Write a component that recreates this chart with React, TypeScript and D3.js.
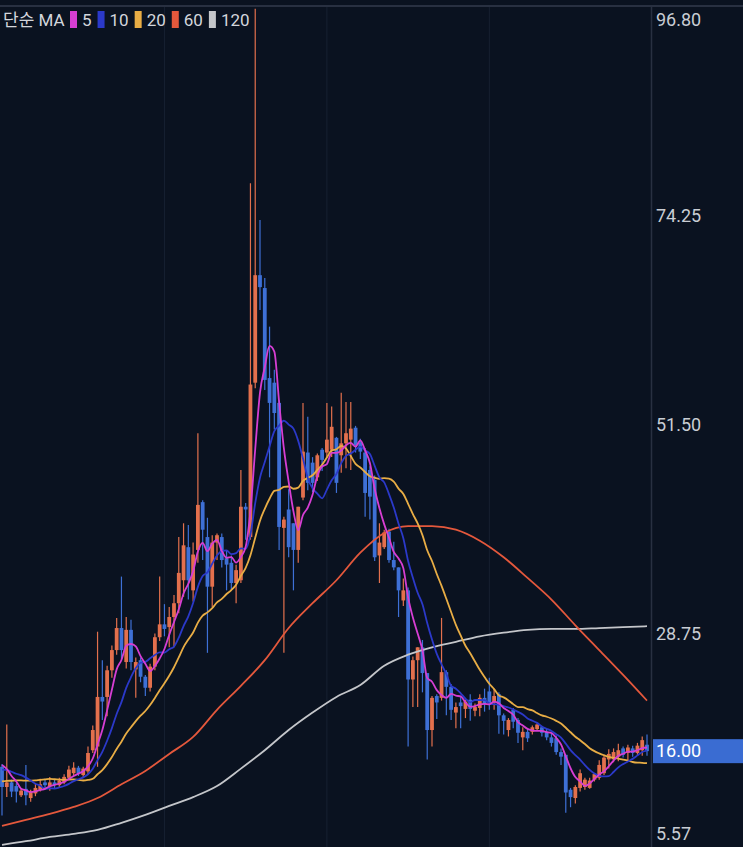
import React, { useEffect, useRef } from 'react';
import * as d3 from 'd3';

// [open, high, low, close] per session
const candles: [number, number, number, number][] = [
  [14.3, 14.6, 9.0, 12.1], [12.1, 18.9, 11.0, 12.6], [12.6, 12.9, 11.0, 11.6], [12.2, 12.5, 10.4, 11.6],
  [11.2, 12.0, 11.0, 11.7], [11.9, 14.5, 10.1, 11.2], [10.9, 11.8, 10.5, 11.6], [11.4, 12.5, 11.1, 12.0],
  [11.8, 13.0, 11.6, 12.4], [12.6, 13.0, 11.8, 12.3], [12.2, 13.2, 11.7, 12.6], [12.6, 12.9, 12.0, 12.3],
  [12.3, 13.1, 12.1, 12.8], [12.6, 13.5, 12.4, 13.2], [13.1, 14.4, 12.9, 14.0], [13.6, 14.8, 13.3, 14.2],
  [14.2, 14.4, 13.3, 13.6], [13.4, 14.3, 13.2, 14.1], [13.8, 16.5, 13.5, 15.8], [16.1, 18.8, 15.8, 18.3],
  [16.5, 29.0, 14.3, 21.9], [21.9, 25.9, 19.4, 21.4], [21.9, 25.3, 19.8, 24.8], [24.8, 27.5, 24.0, 27.0],
  [27.0, 30.5, 26.5, 29.4], [29.4, 35.0, 26.0, 27.0], [25.7, 30.6, 25.0, 29.2], [29.2, 30.3, 24.8, 25.7],
  [24.9, 26.2, 21.8, 25.7], [25.9, 26.2, 23.5, 24.1], [24.1, 24.3, 22.0, 22.9], [22.9, 25.5, 22.5, 25.2],
  [25.2, 28.8, 24.8, 28.4], [28.4, 35.0, 28.0, 29.8], [29.8, 32.0, 28.5, 29.3], [29.5, 31.7, 27.3, 30.6],
  [30.6, 33.0, 27.3, 32.1], [32.1, 39.3, 31.0, 35.4], [34.6, 40.8, 32.8, 38.4], [38.2, 40.6, 32.5, 34.6],
  [33.5, 38.7, 32.3, 37.4], [37.9, 50.6, 36.5, 42.8], [43.1, 43.3, 36.8, 40.1], [39.3, 41.4, 26.7, 33.9],
  [33.9, 39.5, 31.7, 38.7], [38.7, 39.7, 36.8, 39.5], [39.3, 39.7, 36.0, 36.8], [37.0, 37.8, 33.5, 36.3],
  [36.5, 37.3, 33.5, 34.3], [34.3, 36.3, 32.1, 35.7], [34.6, 46.6, 34.3, 42.6], [42.6, 43.0, 39.0, 42.3],
  [39.3, 77.8, 39.0, 55.9], [56.1, 96.8, 55.5, 67.8], [67.8, 73.8, 64.0, 66.5], [66.4, 67.5, 55.3, 56.4],
  [56.6, 62.2, 45.8, 53.9], [56.1, 57.5, 51.0, 52.8], [53.9, 54.2, 37.9, 40.4], [40.3, 41.5, 26.7, 41.2],
  [42.3, 44.5, 37.1, 38.2], [40.8, 40.8, 33.5, 37.9], [37.9, 42.6, 36.5, 42.6], [43.6, 53.9, 43.3, 48.6],
  [48.5, 52.4, 44.4, 45.2], [47.4, 48.0, 44.2, 45.2], [45.8, 48.4, 45.4, 48.2], [48.8, 49.0, 46.5, 47.7],
  [48.5, 53.9, 47.9, 49.9], [48.8, 53.5, 48.0, 51.3], [50.1, 50.2, 44.1, 45.2], [48.2, 55.0, 46.3, 49.5],
  [49.5, 54.0, 46.8, 50.6], [49.9, 54.0, 46.6, 51.1], [51.2, 51.4, 48.5, 49.3], [49.6, 50.0, 47.8, 48.6],
  [48.5, 49.0, 41.5, 44.1], [46.6, 47.0, 41.2, 43.7], [45.5, 46.0, 36.7, 37.1], [37.3, 40.8, 34.3, 38.7],
  [38.2, 40.1, 38.0, 39.8], [39.9, 40.2, 36.5, 36.8], [36.8, 38.8, 35.7, 36.0], [36.0, 36.0, 30.6, 33.5],
  [32.4, 34.8, 31.8, 33.5], [33.5, 33.8, 16.5, 23.8], [23.8, 26.3, 20.8, 25.9], [25.9, 27.3, 20.8, 27.3],
  [27.3, 28.1, 22.4, 24.5], [24.5, 24.5, 15.1, 18.3], [18.3, 22.0, 16.5, 21.8], [22.0, 22.2, 19.5, 21.3],
  [21.8, 30.5, 21.5, 24.6], [24.6, 24.8, 19.9, 23.0], [23.0, 23.3, 19.4, 20.5], [20.2, 21.3, 18.5, 20.8],
  [21.3, 22.0, 18.5, 20.9], [20.6, 21.6, 19.6, 21.4], [21.6, 22.2, 19.3, 20.6], [20.4, 21.2, 19.8, 20.8],
  [20.7, 22.2, 19.8, 21.8], [21.8, 22.8, 20.3, 21.1], [22.5, 24.0, 20.5, 21.2], [21.3, 22.8, 20.5, 22.0],
  [22.2, 22.4, 17.9, 19.9], [19.9, 20.1, 17.8, 19.3], [18.3, 19.6, 17.6, 19.4], [20.5, 20.7, 18.5, 19.2],
  [19.4, 19.6, 16.9, 18.0], [17.5, 18.6, 16.1, 18.1], [18.1, 18.4, 17.0, 17.4], [18.1, 18.8, 17.8, 18.6],
  [18.4, 19.0, 18.2, 18.9], [18.6, 18.7, 17.6, 18.0], [18.1, 18.4, 17.2, 17.5], [17.5, 18.0, 16.5, 16.9],
  [17.4, 17.7, 15.6, 15.9], [15.9, 16.3, 14.5, 15.4], [15.6, 15.6, 9.3, 11.5], [11.8, 12.0, 9.9, 11.0],
  [10.9, 12.3, 10.3, 12.1], [12.0, 14.0, 11.6, 13.6], [12.1, 13.1, 11.8, 12.9], [12.0, 13.1, 11.9, 12.8],
  [12.9, 13.6, 12.7, 13.5], [13.1, 15.0, 12.9, 14.5], [13.6, 15.6, 13.4, 15.3], [15.1, 16.2, 14.1, 15.7],
  [15.1, 16.3, 14.8, 15.9], [15.4, 16.8, 14.9, 16.1], [16.3, 16.5, 15.3, 15.6], [15.8, 16.7, 14.9, 16.4],
  [16.3, 16.6, 15.4, 15.8], [15.8, 16.9, 15.5, 16.6], [16.1, 17.6, 15.5, 17.2], [16.7, 17.8, 15.5, 16.0],
];

// closes before the first visible candle (only feed the short averages)
const priorCloses = [11.2, 11.5, 11.0, 11.6, 11.8, 11.3, 11.5, 11.2, 11.6, 11.4,
  13.0, 13.6, 13.8, 13.2, 13.9, 14.8, 15.4, 14.6, 15.6];

// long averages, read every 5 sessions
const maStep = 5;
const ma60 = [7.87, 8.52, 9.17, 9.93, 10.9, 12.4, 13.85, 15.7, 17.55, 20.5, 23.1, 25.9, 29.4, 32.1,
  34.6, 37.6, 39.75, 40.5, 40.5, 40.1, 38.9, 37.1, 34.85, 32.5, 29.7, 27.0, 24.3, 21.5];
const ma120 = [5.8, 6.2, 6.67, 7.0, 7.43, 8.2, 9.06, 10.04, 11.0, 12.2, 14.1, 16.1, 18.3, 20.2,
  21.9, 23.2, 25.3, 26.5, 27.3, 27.9, 28.5, 28.9, 29.2, 29.3, 29.3, 29.4, 29.5, 29.6];

const priceTicks = ['96.80', '74.25', '51.50', '28.75', '5.57'];
const lastPrice = '16.00';
const gridSessions = [34, 68, 102];

const legend = [
  { label: '5', color: '#d63ed3' },
  { label: '10', color: '#2b39c9' },
  { label: '20', color: '#e8ad45' },
  { label: '60', color: '#e4583c' },
  { label: '120', color: '#c4c6ca' },
];

const W = 743;
const H = 847;
const UP = '#e3704d';
const DOWN = '#3e70d6';
const FONT = "Roboto, 'Noto Sans CJK KR', sans-serif";

function movingAvg(all: number[], n: number, offset: number, count: number) {
  return Array.from({ length: count }, (_, i) => {
    const end = offset + i + 1;
    return d3.mean(all.slice(Math.max(0, end - n), end)) as number;
  });
}

const App: React.FC = () => {
  const svgRef = useRef<SVGSVGElement>(null);

  useEffect(() => {
    if (!svgRef.current) return;
    const svg = d3.select(svgRef.current);
    svg.selectAll('*').remove();

    const plotRight = 651;
    const x = d3.scaleLinear().domain([0, candles.length - 1]).range([2, 647]);
    const y = d3.scaleLinear().domain([5.57, 96.8]).range([847, 8.7]);

    svg.append('rect').attr('width', W).attr('height', H).attr('fill', '#0a1220');

    svg.append('defs').append('clipPath').attr('id', 'plot')
      .append('rect').attr('x', 0).attr('y', 7).attr('width', plotRight).attr('height', H - 7);

    // grid
    svg.selectAll('line.grid').data(gridSessions).enter().append('line')
      .attr('x1', d => x(d)).attr('x2', d => x(d))
      .attr('y1', 7).attr('y2', H)
      .attr('stroke', '#172031').attr('stroke-width', 1);

    const plot = svg.append('g').attr('clip-path', 'url(#plot)');

    // candles
    const bw = 3.8;
    const g = plot.selectAll('g.c').data(candles).enter().append('g');
    g.append('line')
      .attr('x1', (_, i) => x(i)).attr('x2', (_, i) => x(i))
      .attr('y1', d => y(d[1])).attr('y2', d => y(d[2]))
      .attr('stroke', d => (d[3] >= d[0] ? UP : DOWN)).attr('stroke-width', 1.2);
    g.append('rect')
      .attr('x', (_, i) => x(i) - bw / 2).attr('width', bw)
      .attr('y', d => y(Math.max(d[0], d[3])))
      .attr('height', d => Math.max(1.2, Math.abs(y(d[0]) - y(d[3]))))
      .attr('fill', d => (d[3] >= d[0] ? UP : DOWN));

    // moving averages
    const closes = candles.map(c => c[3]);
    const all = [...priorCloses, ...closes];
    const line = d3.line<number>().x((_, i) => x(i)).y(d => y(d)).curve(d3.curveMonotoneX);
    const sparse = d3.line<number>().x((_, i) => x(i * maStep)).y(d => y(d)).curve(d3.curveMonotoneX);

    const drawLine = (data: number[], gen: d3.Line<number>, color: string) =>
      plot.append('path').datum(data).attr('fill', 'none').attr('stroke', color)
        .attr('stroke-width', 1.8).attr('d', gen);

    drawLine(ma120, sparse, legend[4].color);
    drawLine(ma60, sparse, legend[3].color);
    drawLine(movingAvg(all, 20, priorCloses.length, closes.length), line, legend[2].color);
    drawLine(movingAvg(all, 10, priorCloses.length, closes.length), line, legend[1].color);
    drawLine(movingAvg(all, 5, priorCloses.length, closes.length), line, legend[0].color);

    // frame
    svg.append('line').attr('x1', 0).attr('x2', W).attr('y1', 6).attr('y2', 6)
      .attr('stroke', '#283041').attr('stroke-width', 2);
    svg.append('line').attr('x1', plotRight + 0.5).attr('x2', plotRight + 0.5).attr('y1', 6).attr('y2', H)
      .attr('stroke', '#283041').attr('stroke-width', 1.5);

    // price axis
    svg.selectAll('text.tick').data(priceTicks).enter().append('text')
      .attr('x', 656)
      .attr('y', d => Math.min(Math.max(y(+d), 20), 834))
      .attr('dy', '0.35em')
      .attr('fill', '#c9cdd4').attr('font-family', FONT).attr('font-size', 18)
      .text(d => d);

    const ly = y(+lastPrice);
    svg.append('rect').attr('x', 653).attr('y', ly - 12).attr('width', W - 653).attr('height', 24)
      .attr('fill', '#3a6cd2');
    svg.append('text').attr('x', 656).attr('y', ly).attr('dy', '0.35em')
      .attr('fill', '#ffffff').attr('font-family', FONT).attr('font-size', 18).text(lastPrice);

    // legend
    const lg = svg.append('g').attr('font-family', FONT).attr('font-size', 17).attr('fill', '#d3d6dc');
    lg.append('text').attr('x', 3).attr('y', 26).text('단순 MA');
    let cx = 70;
    legend.forEach(item => {
      lg.append('rect').attr('x', cx).attr('y', 11).attr('width', 7).attr('height', 17).attr('fill', item.color);
      const t = lg.append('text').attr('x', cx + 12).attr('y', 26).text(item.label);
      const w = (t.node() as SVGTextElement).getComputedTextLength();
      cx += 12 + w + 6;
    });
  }, []);

  return (
    <svg ref={svgRef} width={W} height={H} style={{ position: 'fixed', left: 0, top: 0, display: 'block' }} />
  );
};

export default App;
